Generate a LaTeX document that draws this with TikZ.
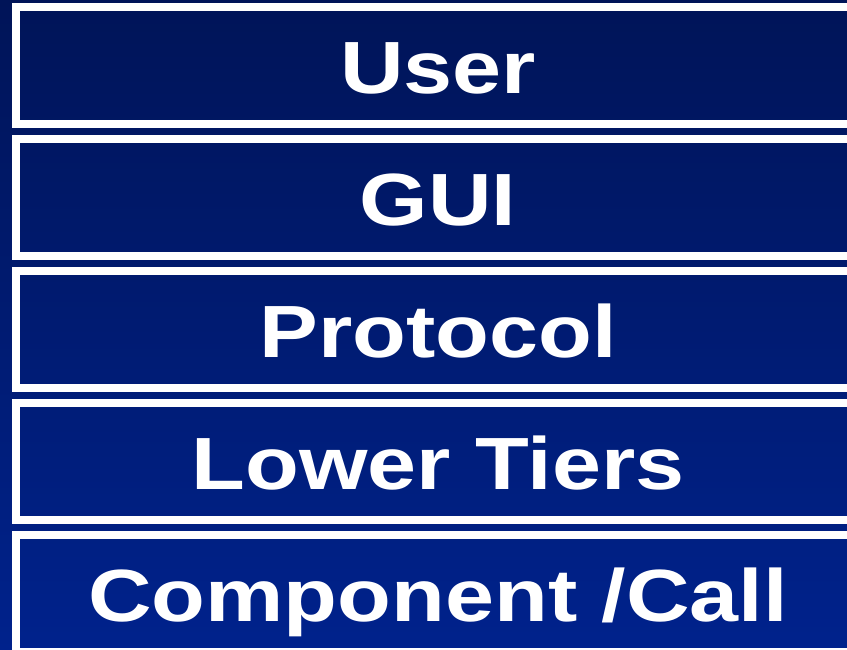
\documentclass[tikz,border=0pt]{standalone}
\usepackage{fontspec}
\newfontfamily\tierfont[FakeStretch=1.19]{Liberation Sans}
\usetikzlibrary{positioning}
\definecolor{tiertop}{RGB}{0,20,88}
\definecolor{tierbottom}{RGB}{0,34,140}
\tikzset{
	tier/.style={draw=white,line width=8pt,minimum width=844pt,minimum height=117pt,
		inner sep=0pt,outer sep=0pt,text=white,
		font=\tierfont\bfseries\fontsize{74pt}{80pt}\selectfont,
		text height=60pt,text depth=4pt}
}
\begin{document}
\begin{tikzpicture}[x=1pt,y=1pt,node distance=15pt]
	%Background of the slide
	\clip (0,0) rectangle (847,650);
	\shade [top color=tiertop,bottom color=tierbottom] (0,0) rectangle (847,650);
	%Layers, from the top down
	\node [tier] (user) at (438,584) {User};
	\node [tier,below=of user] (gui) {GUI};
	\node [tier,below=of gui] (protocol) {Protocol};
	\node [tier,below=of protocol] (lower) {Lower Tiers};
	\node [tier,below=of lower] (component) {Component /Call};
\end{tikzpicture}
\end{document}
